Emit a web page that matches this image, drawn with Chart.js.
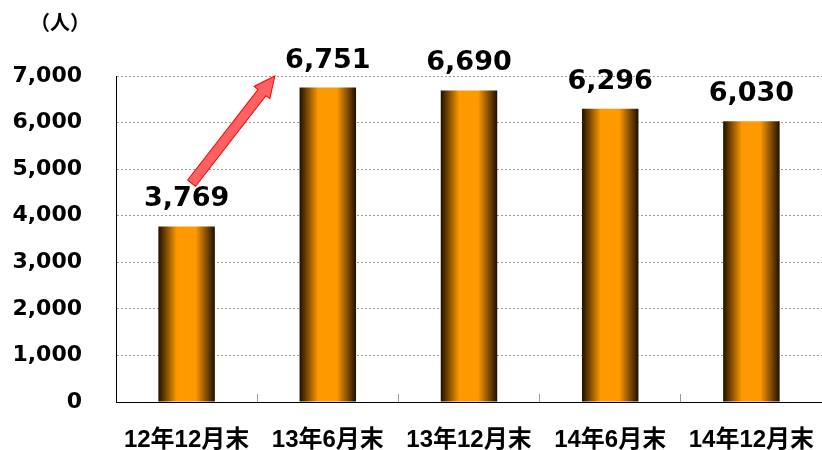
<!DOCTYPE html>
<html>
<head>
<meta charset="utf-8">
<script src="https://cdn.jsdelivr.net/npm/chart.js@4.4.0/dist/chart.umd.min.js"></script>
<style>
  html, body { margin: 0; padding: 0; background: #fff; overflow: hidden; }
  #wrap { width: 822px; height: 450px; }
</style>
</head>
<body>
<div id="wrap"><canvas id="grafica"></canvas></div>
<script>
// ==== Datos ====
const categorias = ['12年12月末', '13年6月末', '13年12月末', '14年6月末', '14年12月末'];
const personas   = [3769, 6751, 6690, 6296, 6030];
const ejeY       = { min: 0, max: 7000, paso: 1000 };
const unidad     = '（人）';

const BAR_PCT = 0.4;
const fmt = v => Number(v).toLocaleString('en-US');

// ==== Helpers ====
function degradado(ctx) {
  const chart = ctx.chart;
  const x = chart.scales.x;
  if (!chart.chartArea || !x || ctx.type !== 'data') return '#ff9900';
  const cx = x.getPixelForValue(ctx.dataIndex);
  const half = (x.width / categorias.length) * BAR_PCT / 2;
  const g = chart.ctx.createLinearGradient(cx - half, 0, cx + half, 0);
  g.addColorStop(0, '#1e1000');
  g.addColorStop(0.33, '#ff9900');
  g.addColorStop(0.66, '#ff9900');
  g.addColorStop(1, '#1e1000');
  return g;
}

function flecha(ctx, x0, y0, x1, y1, shaft, headW, headL) {
  const ang = Math.atan2(y1 - y0, x1 - x0);
  const len = Math.hypot(x1 - x0, y1 - y0);
  ctx.save();
  ctx.translate(x0, y0);
  ctx.rotate(ang);
  ctx.beginPath();
  ctx.moveTo(0, -shaft / 2);
  ctx.lineTo(len - headL, -shaft / 2);
  ctx.lineTo(len - headL, -headW / 2);
  ctx.lineTo(len, 0);
  ctx.lineTo(len - headL, headW / 2);
  ctx.lineTo(len - headL, shaft / 2);
  ctx.lineTo(0, shaft / 2);
  ctx.closePath();
  ctx.fillStyle = '#ff6262';
  ctx.fill();
  ctx.lineWidth = 1;
  ctx.strokeStyle = '#ff0000';
  ctx.stroke();
  ctx.restore();
}

// etiquetas de valor, flecha y unidad
const extras = {
  id: 'extras',
  afterDatasetsDraw(chart) {
    const { ctx, scales } = chart;
    const meta = chart.getDatasetMeta(0);
    const cat = scales.x.width / categorias.length;

    // flecha de 12年12月末 a 13年6月末
    flecha(ctx,
      scales.x.getPixelForValue(0) + 5, scales.y.getPixelForValue(4700),
      scales.x.getPixelForValue(1) - cat * 0.375, scales.y.getPixelForValue(7000),
      10, 20, 21);

    ctx.save();
    ctx.fillStyle = '#000';
    ctx.textAlign = 'center';
    ctx.textBaseline = 'middle';
    ctx.font = 'bold 27px "DejaVu Sans"';
    meta.data.forEach((bar, i) => {
      ctx.fillText(fmt(personas[i]), bar.x, bar.y - 27);
    });
    ctx.font = 'bold 20px "Noto Sans CJK JP"';
    ctx.fillText(unidad, 60, 22);
    ctx.restore();
  }
};

// ==== Gráfico ====
const canvas = document.getElementById('grafica');
new Chart(canvas, {
  type: 'bar',
  data: {
    labels: categorias,
    datasets: [{
      data: personas,
      backgroundColor: degradado,
      borderWidth: 0,
      categoryPercentage: 1,
      barPercentage: BAR_PCT
    }]
  },
  options: {
    responsive: true,
    maintainAspectRatio: false,
    animation: false,
    layout: { padding: { top: 76, left: 0, right: 0, bottom: 0 } },
    plugins: {
      legend: { display: false },
      tooltip: { enabled: false },
      title: { display: false }
    },
    scales: {
      x: {
        grid: {
          display: true,
          drawOnChartArea: false,
          drawTicks: true,
          tickLength: -8,
          color: '#999'
        },
        border: { display: true, color: '#000', width: 1 },
        ticks: {
          color: '#000',
          padding: 32,
          maxRotation: 0,
          autoSkip: false,
          font: { family: '"Liberation Sans", "Noto Sans CJK JP"', size: 24, weight: 'bold' }
        },
        afterFit(scale) {
          scale.height = 48;
          scale.paddingLeft = 0;
          scale.paddingRight = 0;
        }
      },
      y: {
        min: ejeY.min,
        max: ejeY.max,
        grid: { color: '#999', drawTicks: false },
        border: { display: true, color: '#000', width: 1, dash: [2, 2] },
        ticks: {
          stepSize: ejeY.paso,
          color: '#000',
          padding: 34,
          callback: v => fmt(v),
          font: { family: '"DejaVu Sans"', size: 22, weight: 'bold' }
        },
        afterFit(scale) {
          scale.width = 116;
          scale.paddingTop = 0;
          scale.paddingBottom = 0;
        }
      }
    }
  },
  plugins: [extras]
});
</script>
</body>
</html>
